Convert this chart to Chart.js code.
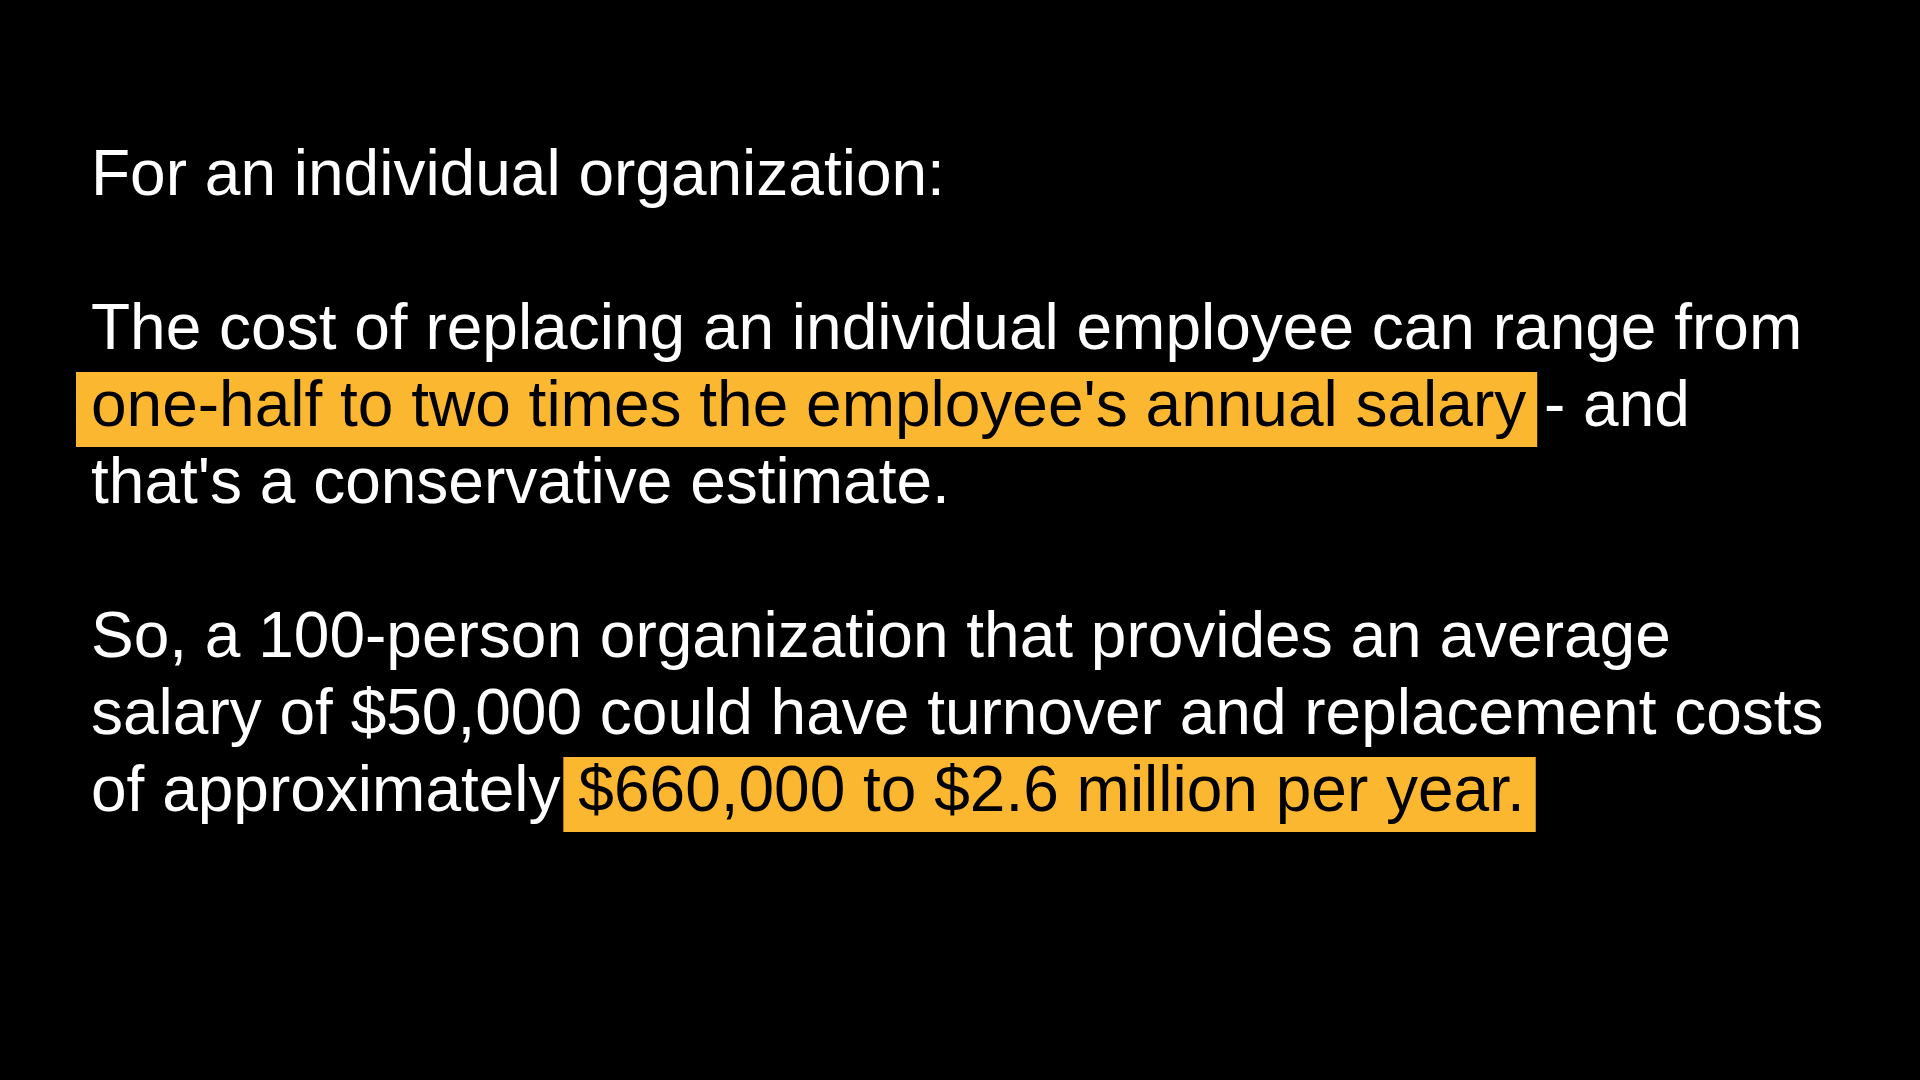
<!DOCTYPE html>
<html>
<head>
<meta charset="utf-8">
<title>Cost of employee turnover</title>
<script src="https://cdn.jsdelivr.net/npm/chart.js@4.4.1/dist/chart.umd.min.js"></script>
<style>
  html, body { margin: 0; padding: 0; background: #000; }
  #wrap { width: 1920px; height: 1080px; position: relative; }
</style>
</head>
<body>
<div id="wrap"><canvas id="slideChart" width="1920" height="1080"></canvas></div>
<script>
    // slide text, one entry per line, blank strings are empty lines
    const introLines = ["For an individual organization:"];
    const costLines = [
      "The cost of replacing an individual employee can range from",
      "one-half to two times the employee's annual salary - and",
      "that's a conservative estimate."
    ];
    const exampleLines = [
      "So, a 100-person organization that provides an average",
      "salary of $50,000 could have turnover and replacement costs",
      "of approximately $660,000 to $2.6 million per year."
    ];
    const highlightedPhrases = [
      "one-half to two times the employee's annual salary",
      "$660,000 to $2.6 million per year."
    ];

    const allLines = introLines.concat([""], costLines, [""], exampleLines);

    const fontSize = 64;
    const lineStep = 77;
    const firstBaseline = 195;
    const leftX = 91;
    const markColor = "#FCB731";

    const slideText = {
      id: 'slideText',
      beforeDraw(chart) {
        const ctx = chart.ctx;
        ctx.save();
        ctx.fillStyle = "#000";
        ctx.fillRect(0, 0, chart.width, chart.height);
        ctx.restore();
      },
      afterDraw(chart) {
        const ctx = chart.ctx;
        ctx.save();
        ctx.font = fontSize + 'px "Liberation Sans", Arial, sans-serif';
        ctx.textBaseline = "alphabetic";
        ctx.textAlign = "left";
        allLines.forEach(function(line, i) {
          if (!line) return;
          const y = firstBaseline + i * lineStep;
          const hl = highlightedPhrases.find(function(p) { return line.indexOf(p) >= 0; });
          if (!hl) {
            ctx.fillStyle = "#fff";
            ctx.fillText(line, leftX, y);
            return;
          }
          const idx = line.indexOf(hl);
          const before = line.slice(0, idx);
          const after = line.slice(idx + hl.length);
          let x = leftX;
          if (before) {
            ctx.fillStyle = "#fff";
            ctx.fillText(before, x, y);
            x += ctx.measureText(before).width;
          }
          const w = ctx.measureText(hl).width;
          // marker box behind the phrase
          ctx.fillStyle = markColor;
          ctx.fillRect(x - 15, y - 54, w + 26, 75);
          ctx.fillStyle = "#000";
          ctx.fillText(hl, x, y);
          x += w;
          if (after) {
            ctx.fillStyle = "#fff";
            ctx.fillText(after, x, y);
          }
        });
        ctx.restore();
      }
    };

    var ctxS = document.getElementById("slideChart").getContext('2d');
    var slide = new Chart(ctxS, {
      type: 'bar',
      data: { labels: [], datasets: [] },
      options: {
        responsive: false,
        animation: false,
        devicePixelRatio: 1,
        layout: { padding: 0 },
        plugins: { legend: { display: false }, tooltip: { enabled: false }, title: { display: false } },
        scales: { x: { display: false }, y: { display: false } }
      },
      plugins: [slideText]
    });
</script>
</body>
</html>
